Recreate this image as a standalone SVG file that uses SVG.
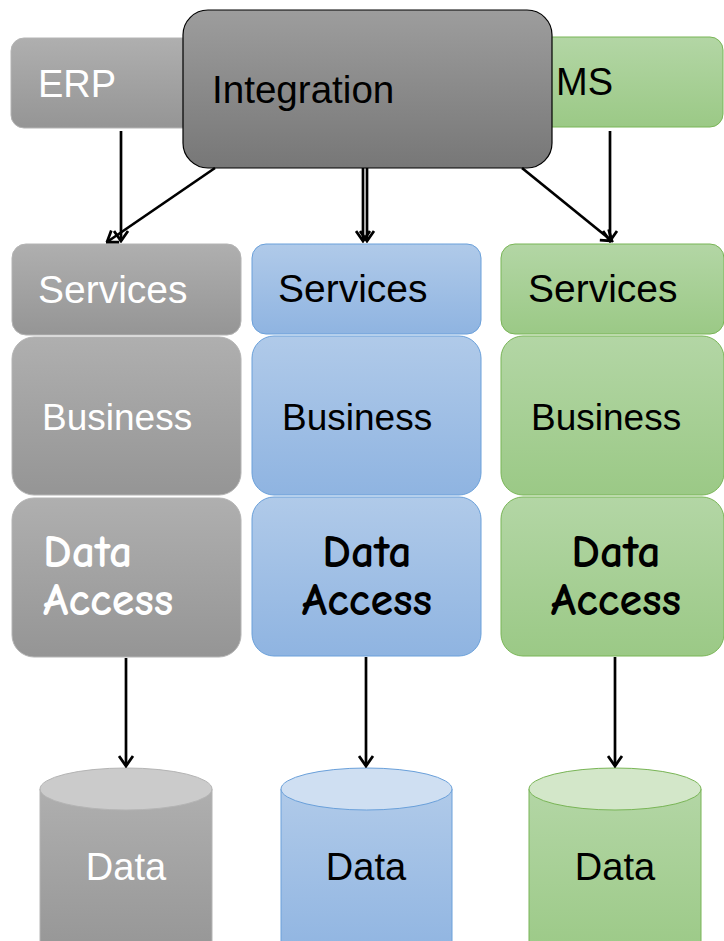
<svg xmlns="http://www.w3.org/2000/svg" width="724" height="941" viewBox="0 0 724 941">
<defs>
<linearGradient id="gGray" x1="0" y1="0" x2="0" y2="1"><stop offset="0" stop-color="#afafaf"/><stop offset="1" stop-color="#959595"/></linearGradient>
<linearGradient id="gBlue" x1="0" y1="0" x2="0" y2="1"><stop offset="0" stop-color="#b0cae9"/><stop offset="1" stop-color="#8fb4e1"/></linearGradient>
<linearGradient id="gGreen" x1="0" y1="0" x2="0" y2="1"><stop offset="0" stop-color="#b3d6a5"/><stop offset="1" stop-color="#9bc986"/></linearGradient>
<linearGradient id="gInt" x1="0" y1="0" x2="0" y2="1"><stop offset="0" stop-color="#9d9d9d"/><stop offset="1" stop-color="#777777"/></linearGradient>
<marker id="arr" viewBox="0 0 13 17" refX="11.5" refY="8.5" markerWidth="13" markerHeight="17" markerUnits="userSpaceOnUse" orient="auto">
<path d="M1.5,1.5 L11.5,8.5 L1.5,15.5" fill="none" stroke="#000" stroke-width="2.8"/>
</marker>
<style>
.gray{fill:url(#gGray);stroke:#b4b4b4;stroke-width:1}
.blue{fill:url(#gBlue);stroke:#6aa0da;stroke-width:1}
.green{fill:url(#gGreen);stroke:#79b556;stroke-width:1}
.t{font-family:"Liberation Sans",Arial,sans-serif;font-size:38px}
.b{font-size:37px}
.c{font-family:"Comic Sans MS","Comic Neue","DejaVu Sans",sans-serif;font-size:46px;font-weight:bold}
.w{fill:#fff}
.k{fill:#000}
.ln{stroke:#000;stroke-width:2.7;fill:none;marker-end:url(#arr)}
</style>
</defs>

<g id="erp">
<rect class="gray" x="11" y="38" width="230" height="90" rx="13"/>
<text class="t w" x="38" y="97">ERP</text>
</g>
<g id="ms">
<rect class="green" x="500" y="37" width="223" height="90" rx="13"/>
<text class="t k" x="556" y="95">MS</text>
</g>
<g id="integration">
<rect x="183" y="10" width="369" height="158" rx="25" fill="url(#gInt)" stroke="#000" stroke-width="1.2"/>
<text class="t k" x="212" y="103" style="font-size:38.6px">Integration</text>
</g>

<g id="services-gray">
<rect class="gray" x="12" y="244" width="229" height="91" rx="14"/>
<text class="t w" x="38" y="303" style="font-size:39px">Services</text>
</g>
<g id="business-gray">
<rect class="gray" x="12" y="337" width="229" height="158" rx="22"/>
<text class="t b w" x="42" y="430">Business</text>
</g>
<g id="dataaccess-gray">
<rect class="gray" x="12" y="498" width="229" height="159" rx="22"/>
<text class="c w" x="43" y="567">Data</text>
<text class="c w" x="43" y="615">Access</text>
</g>

<g id="services-blue">
<rect class="blue" x="252" y="244" width="229" height="90" rx="14"/>
<text class="t k" x="278" y="302" style="font-size:39px">Services</text>
</g>
<g id="business-blue">
<rect class="blue" x="252" y="336" width="229" height="159" rx="22"/>
<text class="t b k" x="282" y="430">Business</text>
</g>
<g id="dataaccess-blue">
<rect class="blue" x="252" y="497" width="229" height="159" rx="22"/>
<text class="c k" x="367" y="567" text-anchor="middle">Data</text>
<text class="c k" x="367" y="615" text-anchor="middle">Access</text>
</g>

<g id="services-green">
<rect class="green" x="501" y="244" width="223" height="90" rx="14"/>
<text class="t k" x="528" y="302" style="font-size:39px">Services</text>
</g>
<g id="business-green">
<rect class="green" x="501" y="336" width="223" height="159" rx="22"/>
<text class="t b k" x="531" y="430">Business</text>
</g>
<g id="dataaccess-green">
<rect class="green" x="501" y="497" width="223" height="159" rx="22"/>
<text class="c k" x="616" y="567" text-anchor="middle">Data</text>
<text class="c k" x="616" y="615" text-anchor="middle">Access</text>
</g>

<g id="data-gray">
<path d="M40,789 L40,960 L212,960 L212,789 Z" fill="url(#gGray)" stroke="#b4b4b4"/>
<ellipse cx="126" cy="789" rx="86" ry="21" fill="#cbcbcb" stroke="#b4b4b4"/>
<text class="t w" x="126" y="880" text-anchor="middle">Data</text>
</g>
<g id="data-blue">
<path d="M281,789 L281,960 L452,960 L452,789 Z" fill="url(#gBlue)" stroke="#6aa0da"/>
<ellipse cx="366.5" cy="789" rx="85.5" ry="21" fill="#cfdff2" stroke="#6aa0da"/>
<text class="t k" x="366" y="880" text-anchor="middle">Data</text>
</g>
<g id="data-green">
<path d="M529,789 L529,960 L701,960 L701,789 Z" fill="url(#gGreen)" stroke="#79b556"/>
<ellipse cx="615" cy="789" rx="86" ry="21" fill="#d3e7c9" stroke="#79b556"/>
<text class="t k" x="615" y="880" text-anchor="middle">Data</text>
</g>

<g id="connectors">
<line class="ln" x1="121" y1="131" x2="121" y2="241"/>
<line class="ln" x1="215" y1="168" x2="107" y2="242"/>
<line class="ln" x1="363" y1="168" x2="363" y2="241"/>
<line class="ln" x1="367" y1="168" x2="367" y2="241"/>
<line class="ln" x1="522" y1="168" x2="612" y2="241"/>
<line class="ln" x1="610" y1="131" x2="610" y2="241"/>
<line class="ln" x1="126" y1="658" x2="126" y2="766"/>
<line class="ln" x1="366" y1="657" x2="366" y2="766"/>
<line class="ln" x1="615" y1="657" x2="615" y2="766"/>
</g>
</svg>
